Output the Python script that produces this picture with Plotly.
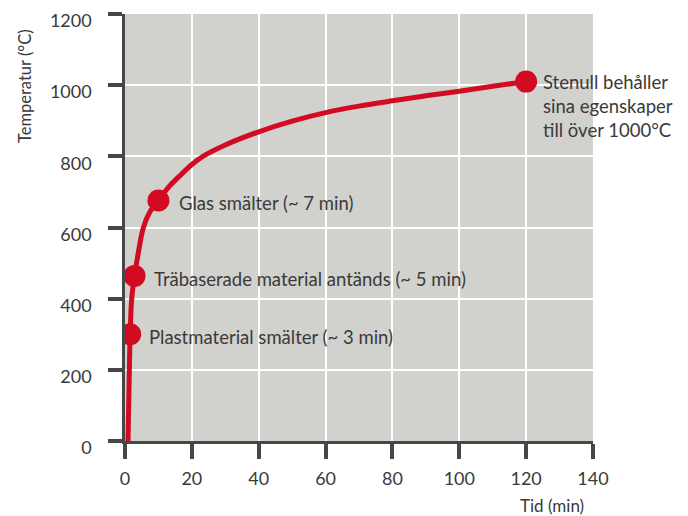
import plotly.graph_objects as go

# Fire curve
time_min = [0.9, 1.3, 1.55, 2.0, 2.85, 4.0, 5.5, 7.5, 10.0, 13.3, 16.8, 20,
            23.3, 30, 40, 50, 60, 70, 80, 90, 100, 110, 120]
temp_c = [0, 200, 300, 400, 464, 530, 600, 645, 676, 716, 749, 777,
          800, 832, 869, 899, 923, 941, 956, 970, 983, 997, 1010]

# Highlighted events
event_t = [1.55, 2.85, 10.0, 120]
event_T = [300, 464, 676, 1010]
event_labels = ["Plastmaterial smälter (~ 3 min)",
                "Träbaserade material antänds (~ 5 min)",
                "Glas smälter (~ 7 min)",
                "Stenull behåller"]
stenull_extra = ["sina egenskaper", "till över 1000°C"]

x_ticks = [0, 20, 40, 60, 80, 100, 120, 140]
y_ticks = [0, 200, 400, 600, 800, 1000, 1200]

RED = "#d20a22"
AXIS = "#474747"
TEXT = "#3a3a3a"
FONT = "Lato"

fig = go.Figure()
fig.add_trace(go.Scatter(x=time_min, y=temp_c, mode="lines",
                         line=dict(color=RED, width=5, shape="spline", smoothing=1.0),
                         hoverinfo="skip", showlegend=False))
fig.add_trace(go.Scatter(x=event_t, y=event_T, mode="markers",
                         marker=dict(color=RED, size=22),
                         showlegend=False))

shifts = [17, 17, 19, 15]
for t, T, lab, s in zip(event_t, event_T, event_labels, shifts):
    fig.add_annotation(x=t, y=T, text=lab, showarrow=False, xanchor="left",
                       yanchor="middle", xshift=s, yshift=-3 if t < 100 else 0,
                       font=dict(family=FONT, size=18.5, color=TEXT))
for i, lab in enumerate(stenull_extra):
    fig.add_annotation(x=event_t[3], y=event_T[3], text=lab, showarrow=False,
                       xanchor="left", yanchor="middle", xshift=15,
                       yshift=-24 * (i + 1),
                       font=dict(family=FONT, size=18.5, color=TEXT))

# Axis titles
fig.add_annotation(xref="paper", yref="paper", x=-0.214, y=0.831,
                   text="Temperatur (°C)", textangle=-90, showarrow=False,
                   xanchor="center", yanchor="middle",
                   font=dict(family=FONT, size=16.5, color=TEXT))
fig.add_annotation(xref="paper", yref="paper", x=0.985, y=-0.152,
                   text="Tid (min)", showarrow=False,
                   xanchor="right", yanchor="middle",
                   font=dict(family=FONT, size=17, color=TEXT))

fig.update_xaxes(range=[0, 140], tickvals=x_ticks, showgrid=True,
                 gridcolor="white", gridwidth=2, zeroline=False, automargin=False,
                 showline=True, linecolor=AXIS, linewidth=2.5,
                 ticks="outside", ticklen=15, tickwidth=3.5, tickcolor=AXIS,
                 ticklabelstandoff=5, ticklabeloverflow="allow",
                 tickfont=dict(family=FONT, size=18, color=TEXT))
fig.update_yaxes(range=[0, 1200], tickvals=y_ticks, showgrid=True,
                 gridcolor="white", gridwidth=2, zeroline=False, automargin=False,
                 showline=True, linecolor=AXIS, linewidth=2.5,
                 ticks="outside", ticklen=14, tickwidth=3.5, tickcolor=AXIS,
                 ticklabelstandoff=13, ticklabeloverflow="allow",
                 ticklabelshift=7,
                 tickfont=dict(family=FONT, size=18, color=TEXT))

# The page adds an 8px body margin, so the figure is sized to fit inside it.
fig.update_layout(width=680, height=508,
                  margin=dict(l=117, r=95, t=6, b=75),
                  plot_bgcolor="#d1d1cd", paper_bgcolor="white",
                  font=dict(family=FONT, color=TEXT))

fig.write_html("out.html")
